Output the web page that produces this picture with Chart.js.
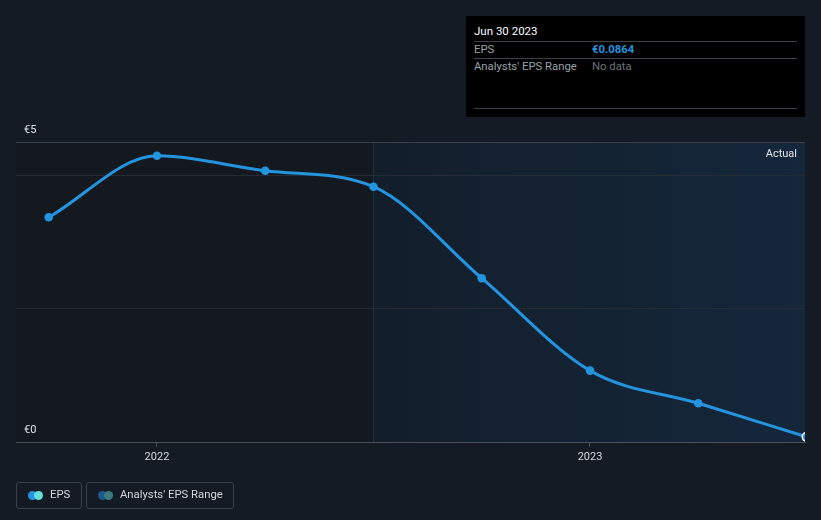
<!DOCTYPE html>
<html>
<head>
<meta charset="utf-8">
<script src="https://cdn.jsdelivr.net/npm/chart.js@4"></script>
<style>
    body { margin: 0; background: #151b25; font-family: Roboto, 'Noto Sans', sans-serif; }
    #wrap { position: relative; width: 821px; height: 520px; }
    #chart { position: absolute; left: 0; top: 0; }
    .tip { position: absolute; left: 466px; top: 16px; width: 339px; height: 101px; background: #000; }
    .tip .date { position: absolute; left: 8px; top: 8px; color: #fff; font-size: 11.5px; }
    .tip .row { position: absolute; left: 8px; width: 323px; height: 17px; border-top: 1px solid #3c3f45; font-size: 11.3px; }
    .tip .row span { position: absolute; top: 1px; }
    .tip .end { position: absolute; left: 8px; top: 92px; width: 323px; border-top: 1px solid #3c3f45; }
    .legend { position: absolute; top: 482px; height: 27px; border: 1px solid #3b404a; border-radius: 3px; color: #d2d5da; font-size: 11.3px; box-sizing: border-box; }
    .legend .dot { position: absolute; top: 8px; width: 9px; height: 9px; border-radius: 50%; }
    .legend .txt { position: absolute; top: 5px; }
</style>
</head>
<body>
<div id="wrap">
    <canvas id="chart" width="821" height="520"></canvas>
    <div class="tip">
        <div class="date">Jun 30 2023</div>
        <div class="row" style="top:25px"><span style="left:0;color:#9aa0a8">EPS</span><span style="left:118px;color:#2394df;font-weight:bold">€0.0864</span></div>
        <div class="row" style="top:42px"><span style="left:0;color:#9aa0a8">Analysts' EPS Range</span><span style="left:118px;color:#6d7178">No data</span></div>
        <div class="end"></div>
    </div>
    <div class="legend" style="left:16px;width:66px">
        <div class="dot" style="left:11px;background:#2394df"></div>
        <div class="dot" style="left:17px;background:#63e0da"></div>
        <div class="txt" style="left:33px">EPS</div>
    </div>
    <div class="legend" style="left:86px;width:148px">
        <div class="dot" style="left:11px;background:#1e5a8c"></div>
        <div class="dot" style="left:17px;background:#3a7c7e"></div>
        <div class="txt" style="left:33px">Analysts' EPS Range</div>
    </div>
</div>
<script>
// quarter ends as decimal years (Sep 30 2021 ... Jun 30 2023)
const periods = [2021.75, 2022.0, 2022.25, 2022.5, 2022.75, 2023.0, 2023.25, 2023.5];
const eps = [3.745, 4.77, 4.52, 4.255, 2.73, 1.19, 0.645, 0.0864];
const yearTicks = [2022, 2023];
const gridValues = [0, 2.22, 4.44, 5];
const yLabels = ['€0', '€5'];
const actualFrom = 2022.5;

const bgPlugin = {
    id: 'bg',
    beforeDraw(chart) {
        const { ctx, chartArea: a, scales } = chart;
        ctx.save();
        ctx.fillStyle = '#151b25';
        ctx.fillRect(0, 0, chart.width, chart.height);
        ctx.fillStyle = '#14181f';
        ctx.fillRect(a.left, a.top, a.right - a.left, a.bottom - a.top);
        const xs = scales.x.getPixelForValue(actualFrom);
        const g = ctx.createLinearGradient(xs, 0, a.right, 0);
        g.addColorStop(0, '#131e2b');
        g.addColorStop(1, '#14273b');
        ctx.fillStyle = g;
        ctx.fillRect(xs, a.top, a.right - xs, a.bottom - a.top);
        ctx.strokeStyle = '#1b3349';
        ctx.lineWidth = 1;
        ctx.beginPath();
        ctx.moveTo(Math.round(xs) + 0.5, a.top);
        ctx.lineTo(Math.round(xs) + 0.5, a.bottom);
        ctx.stroke();
        ctx.restore();
    },
    afterDraw(chart) {
        const { ctx, chartArea: a, scales } = chart;
        ctx.save();
        ctx.font = '11px Roboto';
        ctx.fillStyle = '#e2e4e8';
        ctx.textBaseline = 'middle';
        ctx.textAlign = 'left';
        ctx.fillText(yLabels[0], 24, scales.y.getPixelForValue(0) - 12);
        ctx.fillText(yLabels[1], 24, scales.y.getPixelForValue(5) - 12);
        ctx.textAlign = 'right';
        ctx.fillText('Actual', a.right - 8, a.top + 12);
        ctx.restore();
    }
};

new Chart(document.querySelector('#chart'), {
    type: 'line',
    data: {
        datasets: [
            {
                label: 'EPS',
                data: periods.map((p, i) => ({ x: p, y: eps[i] })),
                borderColor: '#2394df',
                borderWidth: 3,
                backgroundColor: '#2394df',
                pointRadius: 4.3,
                pointBorderWidth: eps.map((v, i) => (i === eps.length - 1 ? 1.5 : 0)),
                pointBorderColor: eps.map((v, i) => (i === eps.length - 1 ? '#ffffff' : '#2394df')),
                pointBackgroundColor: eps.map((v, i) => (i === eps.length - 1 ? '#2a8fd0' : '#2394df')),
                cubicInterpolationMode: 'monotone',
                clip: 0,
            },
        ],
    },
    options: {
        responsive: false,
        animation: false,
        layout: { padding: { left: 16, right: 16, top: 142, bottom: 50 } },
        plugins: { legend: { display: false }, tooltip: { enabled: false } },
        scales: {
            x: {
                type: 'linear',
                min: 2021.6745,
                max: 2023.4965,
                afterBuildTicks: s => { s.ticks = yearTicks.map(v => ({ value: v })); },
                afterFit: s => { s.height = 28; },
                grid: { drawOnChartArea: false, color: '#4b505a', tickLength: 5 },
                border: { display: true, color: '#4b505a', width: 1 },
                ticks: { color: '#d6d9de', font: { family: 'Roboto', size: 11 }, padding: 4, callback: v => String(v) },
            },
            y: {
                min: 0,
                max: 5,
                afterBuildTicks: s => { s.ticks = gridValues.map(v => ({ value: v })); },
                afterFit: s => { s.width = 0; },
                ticks: { display: false },
                border: { display: false },
                grid: {
                    drawTicks: false,
                    color: c => (c.tick.value === 5 ? '#3a3f49' : c.tick.value === 0 ? '#4b505a' : '#262b34'),
                },
            },
        },
    },
    plugins: [bgPlugin],
});
</script>
</body>
</html>
